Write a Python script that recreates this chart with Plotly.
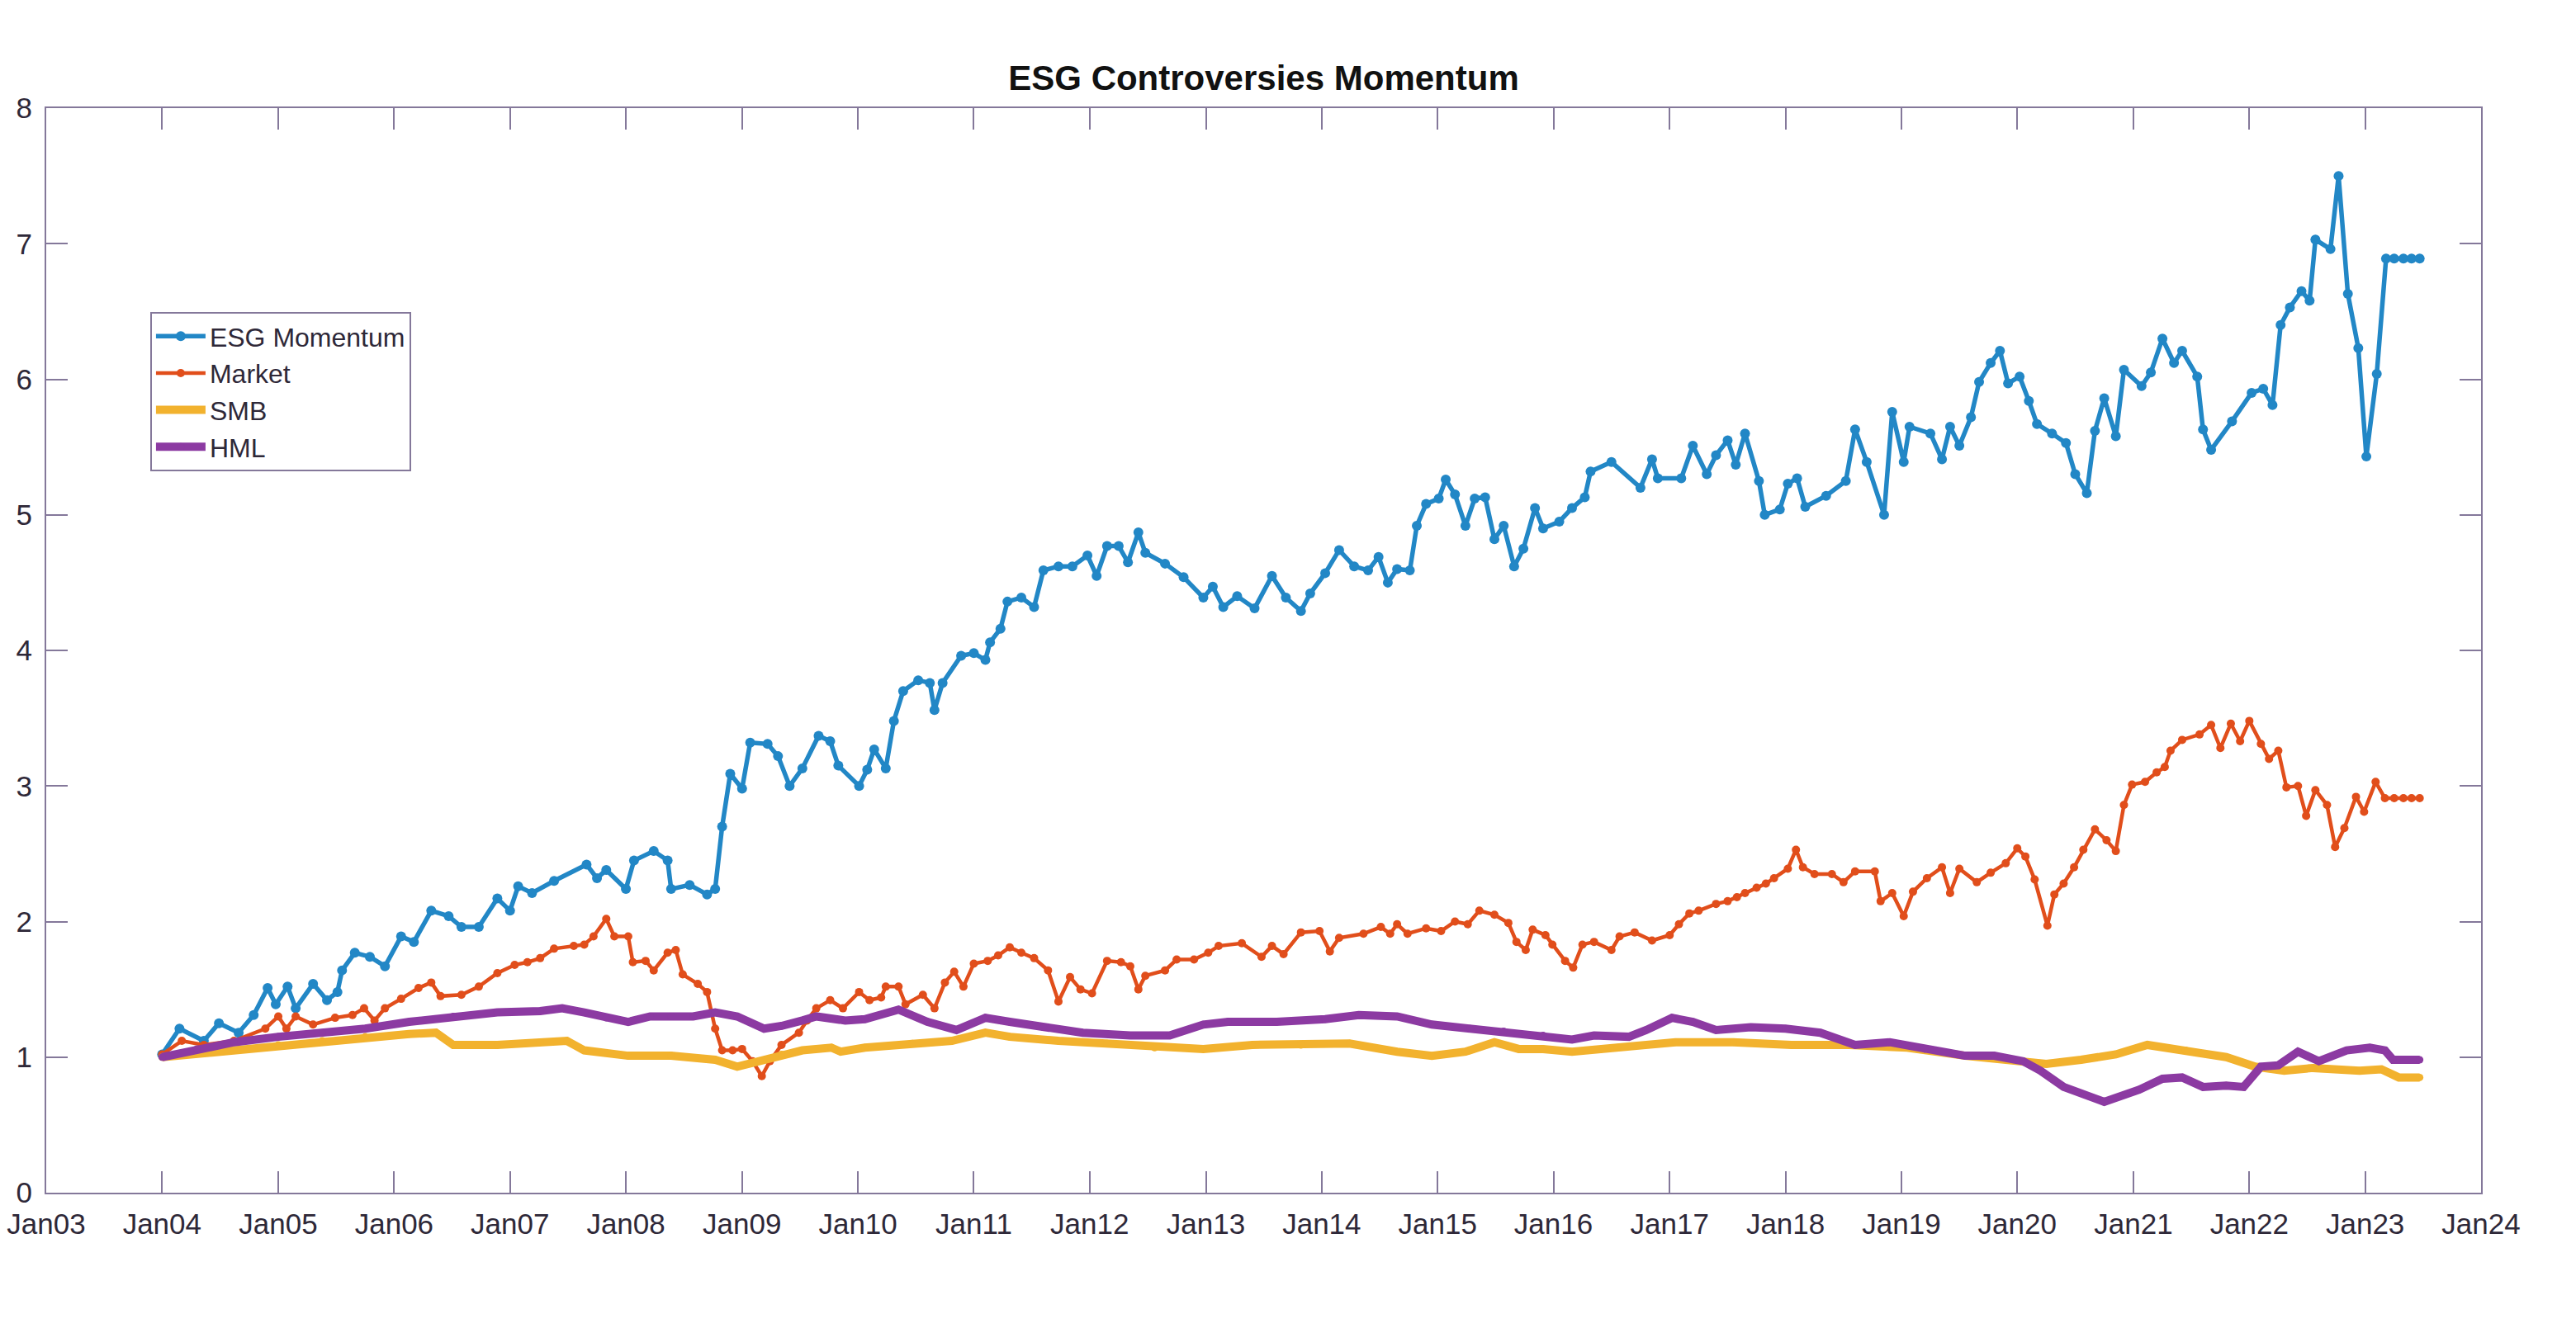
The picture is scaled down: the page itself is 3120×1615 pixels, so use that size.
import pandas as pd
import plotly.graph_objects as go

# ---------------- data (decimal year, value) ----------------
esg_t = [2004.00, 2004.15, 2004.36, 2004.49, 2004.66, 2004.79, 2004.91, 2004.98, 2005.08, 2005.15,
         2005.30, 2005.42, 2005.51, 2005.55, 2005.66, 2005.79, 2005.92, 2006.06, 2006.17, 2006.32,
         2006.47, 2006.58, 2006.73, 2006.89, 2007.00, 2007.07, 2007.19, 2007.38, 2007.66, 2007.75,
         2007.83, 2008.00, 2008.07, 2008.24, 2008.36, 2008.39, 2008.55, 2008.70, 2008.77, 2008.83,
         2008.90, 2009.00, 2009.07, 2009.22, 2009.31, 2009.41, 2009.52, 2009.66, 2009.76, 2009.83,
         2010.01, 2010.08, 2010.14, 2010.24, 2010.31, 2010.39, 2010.52, 2010.62, 2010.66, 2010.73,
         2010.89, 2011.00, 2011.10, 2011.14, 2011.23, 2011.29, 2011.41, 2011.52, 2011.60, 2011.73,
         2011.85, 2011.98, 2012.06, 2012.15, 2012.25, 2012.33, 2012.42, 2012.48, 2012.65, 2012.81,
         2012.98, 2013.06, 2013.15, 2013.27, 2013.42, 2013.57, 2013.69, 2013.82, 2013.90, 2014.03,
         2014.15, 2014.28, 2014.40, 2014.49, 2014.57, 2014.65, 2014.76, 2014.82, 2014.90, 2015.01,
         2015.07, 2015.15, 2015.24, 2015.32, 2015.41, 2015.49, 2015.57, 2015.66, 2015.74, 2015.84,
         2015.91, 2016.05, 2016.16, 2016.27, 2016.32, 2016.50, 2016.75, 2016.85, 2016.90, 2017.10,
         2017.20, 2017.32, 2017.40, 2017.50, 2017.57, 2017.65, 2017.77, 2017.82, 2017.95, 2018.02,
         2018.10, 2018.17, 2018.35, 2018.52, 2018.60, 2018.70, 2018.85, 2018.92, 2019.02, 2019.07,
         2019.25, 2019.35, 2019.42, 2019.50, 2019.60, 2019.67, 2019.77, 2019.85, 2019.92, 2020.02,
         2020.10, 2020.17, 2020.30, 2020.42, 2020.50, 2020.60, 2020.67, 2020.75, 2020.85, 2020.92,
         2021.07, 2021.15, 2021.25, 2021.35, 2021.42, 2021.55, 2021.60, 2021.67, 2021.85, 2022.02,
         2022.12, 2022.20, 2022.27, 2022.35, 2022.45, 2022.52, 2022.57, 2022.70, 2022.77, 2022.85,
         2022.94, 2023.01, 2023.10, 2023.18, 2023.25, 2023.33, 2023.40, 2023.47]
esg_v = [1.02, 1.21, 1.12, 1.25, 1.18, 1.31, 1.51, 1.39, 1.52, 1.36,
         1.54, 1.42, 1.48, 1.64, 1.77, 1.74, 1.67, 1.89, 1.85, 2.08,
         2.04, 1.96, 1.96, 2.17, 2.08, 2.26, 2.21, 2.30, 2.42, 2.32,
         2.38, 2.24, 2.45, 2.52, 2.45, 2.24, 2.27, 2.20, 2.24, 2.70,
         3.09, 2.98, 3.32, 3.31, 3.22, 3.00, 3.13, 3.37, 3.33, 3.15,
         3.00, 3.12, 3.27, 3.13, 3.48, 3.70, 3.78, 3.76, 3.56, 3.76,
         3.96, 3.98, 3.93, 4.06, 4.16, 4.36, 4.39, 4.32, 4.59, 4.62,
         4.62, 4.70, 4.55, 4.77, 4.77, 4.65, 4.87, 4.72, 4.64, 4.54,
         4.39, 4.47, 4.32, 4.40, 4.31, 4.55, 4.39, 4.29, 4.42, 4.57,
         4.74, 4.62, 4.59, 4.69, 4.50, 4.60, 4.59, 4.92, 5.08, 5.12,
         5.26, 5.15, 4.92, 5.12, 5.13, 4.82, 4.92, 4.62, 4.75, 5.05,
         4.90, 4.95, 5.05, 5.13, 5.32, 5.39, 5.20, 5.41, 5.27, 5.27,
         5.51, 5.30, 5.44, 5.55, 5.37, 5.60, 5.25, 5.00, 5.04, 5.23,
         5.27, 5.06, 5.14, 5.25, 5.63, 5.39, 5.00, 5.76, 5.39, 5.65,
         5.60, 5.41, 5.65, 5.51, 5.72, 5.98, 6.12, 6.21, 5.97, 6.02,
         5.84, 5.67, 5.60, 5.53, 5.30, 5.16, 5.62, 5.86, 5.58, 6.07,
         5.95, 6.05, 6.30, 6.12, 6.21, 6.02, 5.63, 5.48, 5.69, 5.90,
         5.93, 5.81, 6.40, 6.53, 6.65, 6.58, 7.03, 6.96, 7.50, 6.63,
         6.23, 5.43, 6.04, 6.89, 6.89, 6.89, 6.89, 6.89]

mkt_t = [2004.00, 2004.17, 2004.36, 2004.62, 2004.89, 2005.00, 2005.07, 2005.15, 2005.30, 2005.49,
         2005.64, 2005.74, 2005.83, 2005.92, 2006.06, 2006.21, 2006.32, 2006.40, 2006.58, 2006.73,
         2006.89, 2007.04, 2007.15, 2007.26, 2007.38, 2007.55, 2007.64, 2007.72, 2007.83, 2007.90,
         2008.02, 2008.06, 2008.17, 2008.24, 2008.36, 2008.43, 2008.49, 2008.62, 2008.70, 2008.77,
         2008.83, 2008.92, 2009.00, 2009.09, 2009.17, 2009.24, 2009.34, 2009.49, 2009.56, 2009.64,
         2009.76, 2009.87, 2010.01, 2010.10, 2010.20, 2010.24, 2010.35, 2010.41, 2010.56, 2010.66,
         2010.75, 2010.83, 2010.91, 2011.00, 2011.12, 2011.21, 2011.31, 2011.41, 2011.52, 2011.64,
         2011.73, 2011.83, 2011.92, 2012.02, 2012.15, 2012.27, 2012.35, 2012.42, 2012.48, 2012.65,
         2012.75, 2012.90, 2013.02, 2013.11, 2013.31, 2013.48, 2013.57, 2013.67, 2013.82, 2013.98,
         2014.07, 2014.15, 2014.36, 2014.51, 2014.59, 2014.65, 2014.74, 2014.90, 2015.03, 2015.15,
         2015.26, 2015.36, 2015.49, 2015.61, 2015.68, 2015.76, 2015.82, 2015.93, 2015.99, 2016.10,
         2016.17, 2016.25, 2016.35, 2016.50, 2016.57, 2016.70, 2016.85, 2017.00, 2017.08, 2017.17,
         2017.25, 2017.40, 2017.50, 2017.58, 2017.65, 2017.75, 2017.83, 2017.90, 2018.02, 2018.09,
         2018.15, 2018.25, 2018.40, 2018.50, 2018.60, 2018.77, 2018.82, 2018.92, 2019.02, 2019.10,
         2019.22, 2019.35, 2019.42, 2019.50, 2019.65, 2019.77, 2019.90, 2020.00, 2020.07, 2020.15,
         2020.26, 2020.32, 2020.40, 2020.49, 2020.57, 2020.67, 2020.77, 2020.85, 2020.92, 2020.99,
         2021.10, 2021.20, 2021.27, 2021.32, 2021.42, 2021.57, 2021.67, 2021.75, 2021.84, 2021.92,
         2022.00, 2022.10, 2022.17, 2022.25, 2022.32, 2022.42, 2022.49, 2022.57, 2022.67, 2022.74,
         2022.82, 2022.92, 2022.99, 2023.09, 2023.17, 2023.25, 2023.33, 2023.40, 2023.47]
mkt_v = [1.02, 1.12, 1.09, 1.12, 1.21, 1.30, 1.21, 1.30, 1.24, 1.29,
         1.31, 1.36, 1.27, 1.36, 1.43, 1.51, 1.55, 1.45, 1.46, 1.52,
         1.62, 1.68, 1.70, 1.73, 1.80, 1.82, 1.83, 1.89, 2.02, 1.89,
         1.89, 1.70, 1.71, 1.64, 1.77, 1.79, 1.61, 1.54, 1.48, 1.21,
         1.05, 1.05, 1.06, 0.97, 0.86, 0.97, 1.09, 1.18, 1.27, 1.36,
         1.42, 1.36, 1.48, 1.42, 1.44, 1.52, 1.52, 1.39, 1.46, 1.36,
         1.55, 1.63, 1.52, 1.69, 1.71, 1.75, 1.81, 1.77, 1.73, 1.64,
         1.41, 1.59, 1.50, 1.47, 1.71, 1.70, 1.67, 1.50, 1.60, 1.64,
         1.72, 1.72, 1.77, 1.82, 1.84, 1.74, 1.82, 1.76, 1.92, 1.93,
         1.78, 1.88, 1.91, 1.96, 1.91, 1.98, 1.91, 1.95, 1.93, 2.00,
         1.98, 2.08, 2.05, 1.99, 1.85, 1.79, 1.94, 1.90, 1.83, 1.71,
         1.66, 1.83, 1.85, 1.79, 1.89, 1.92, 1.86, 1.90, 1.98, 2.06,
         2.08, 2.13, 2.15, 2.18, 2.21, 2.25, 2.28, 2.32, 2.39, 2.53,
         2.40, 2.35, 2.35, 2.29, 2.37, 2.37, 2.15, 2.21, 2.04, 2.22,
         2.32, 2.40, 2.21, 2.39, 2.29, 2.36, 2.43, 2.54, 2.48, 2.31,
         1.97, 2.20, 2.28, 2.40, 2.53, 2.68, 2.60, 2.52, 2.86, 3.01,
         3.03, 3.10, 3.14, 3.26, 3.34, 3.38, 3.45, 3.28, 3.46, 3.33,
         3.48, 3.31, 3.20, 3.26, 2.99, 3.00, 2.78, 2.97, 2.86, 2.55,
         2.69, 2.92, 2.81, 3.03, 2.91, 2.91, 2.91, 2.91, 2.91]

smb_t = [2004.00, 2004.62, 2005.00, 2005.38, 2005.75, 2006.13, 2006.36, 2006.51, 2006.89, 2007.26,
         2007.49, 2007.64, 2008.02, 2008.39, 2008.77, 2008.96, 2009.15, 2009.34, 2009.52, 2009.77,
         2009.85, 2010.06, 2010.47, 2010.81, 2011.10, 2011.31, 2011.73, 2012.15, 2012.56, 2012.98,
         2013.40, 2013.82, 2014.24, 2014.65, 2014.95, 2015.24, 2015.49, 2015.70, 2015.91, 2016.16,
         2016.55, 2017.05, 2017.55, 2018.05, 2018.55, 2019.05, 2019.55, 2020.05, 2020.25, 2020.55,
         2020.85, 2021.12, 2021.45, 2021.80, 2022.05, 2022.30, 2022.55, 2022.95, 2023.14, 2023.29,
         2023.47]
smb_v = [1.00, 1.05, 1.09, 1.12, 1.15, 1.17, 1.18, 1.09, 1.09, 1.11,
         1.12, 1.05, 1.01, 1.01, 0.98, 0.93, 0.97, 1.02, 1.05, 1.07,
         1.04, 1.07, 1.10, 1.12, 1.18, 1.15, 1.12, 1.10, 1.07, 1.06,
         1.09, 1.09, 1.10, 1.04, 1.01, 1.04, 1.11, 1.06, 1.06, 1.04,
         1.07, 1.11, 1.11, 1.09, 1.09, 1.07, 1.01, 0.97, 0.95, 0.98,
         1.02, 1.09, 1.05, 1.00, 0.93, 0.90, 0.92, 0.90, 0.91, 0.85,
         0.85]

hml_t = [2004.00, 2004.30, 2004.62, 2005.00, 2005.38, 2005.75, 2006.13, 2006.51, 2006.89, 2007.26,
         2007.45, 2007.64, 2007.83, 2008.02, 2008.21, 2008.39, 2008.58, 2008.77, 2008.96, 2009.19,
         2009.34, 2009.52, 2009.64, 2009.89, 2010.06, 2010.35, 2010.60, 2010.85, 2011.10, 2011.31,
         2011.60, 2011.94, 2012.35, 2012.69, 2012.98, 2013.19, 2013.61, 2014.03, 2014.32, 2014.65,
         2014.95, 2015.28, 2015.57, 2015.91, 2016.16, 2016.35, 2016.65, 2016.80, 2017.02, 2017.20,
         2017.40, 2017.70, 2018.00, 2018.30, 2018.60, 2018.90, 2019.20, 2019.55, 2019.80, 2020.05,
         2020.20, 2020.40, 2020.75, 2021.05, 2021.25, 2021.42, 2021.60, 2021.80, 2021.95, 2022.10,
         2022.25, 2022.42, 2022.60, 2022.84, 2023.04, 2023.17, 2023.24, 2023.47]
hml_v = [1.00, 1.06, 1.11, 1.15, 1.18, 1.21, 1.26, 1.30, 1.33, 1.34,
         1.36, 1.33, 1.29, 1.26, 1.30, 1.30, 1.30, 1.33, 1.30, 1.21,
         1.23, 1.27, 1.30, 1.27, 1.28, 1.35, 1.26, 1.20, 1.29, 1.26,
         1.22, 1.18, 1.16, 1.16, 1.24, 1.26, 1.26, 1.28, 1.31, 1.30,
         1.24, 1.21, 1.19, 1.16, 1.13, 1.16, 1.15, 1.20, 1.29, 1.26,
         1.20, 1.22, 1.21, 1.18, 1.09, 1.11, 1.06, 1.01, 1.01, 0.97,
         0.90, 0.78, 0.67, 0.76, 0.84, 0.85, 0.78, 0.79, 0.78, 0.93,
         0.94, 1.04, 0.97, 1.05, 1.07, 1.05, 0.98, 0.98]

series_names = ["ESG Momentum", "Market", "SMB", "HML"]
series_colors = ["#2287c6", "#e14e1b", "#f2b22e", "#8c3aa2"]
y_ticks = [0, 1, 2, 3, 4, 5, 6, 7, 8]
title_text = "ESG Controversies Momentum"


def to_dates(ts):
    out = []
    for t in ts:
        yr = int(t)
        frac = t - yr
        out.append(pd.Timestamp(yr, 1, 1) + pd.Timedelta(days=frac * 365.25))
    return out


FONT = "Liberation Sans, Arial, Helvetica, sans-serif"
AX = "#84789a"
TXT = "#2e2838"

fig = go.Figure()
data = [(esg_t, esg_v), (mkt_t, mkt_v), (smb_t, smb_v), (hml_t, hml_v)]
widths = [5.5, 4.5, 10, 10]
msizes = [12, 10, 9, 9]
for (t, v), name, col, w, ms in zip(data, series_names, series_colors, widths, msizes):
    fig.add_trace(go.Scatter(
        x=to_dates(t), y=v, name=name, mode="lines+markers",
        line=dict(color=col, width=w),
        marker=dict(color=col, size=ms, symbol="circle"),
    ))

fig.update_layout(
    width=3120, height=1615,
    margin=dict(l=48, r=123, t=123, b=178, autoexpand=False),
    paper_bgcolor="white", plot_bgcolor="white",
    font=dict(family=FONT, size=35, color=TXT),
    title=dict(text="<b>" + title_text + "</b>", x=0.5, xref="paper",
               y=1 - 86 / 1615, yref="container", xanchor="center", yanchor="middle",
               font=dict(family=FONT, size=42, color="#111111")),
    showlegend=True,
    legend=dict(x=0.0427, y=0.812, xanchor="left", yanchor="top",
                bgcolor="white", bordercolor=AX, borderwidth=2,
                font=dict(family=FONT, size=32, color=TXT),
                itemwidth=60, tracegroupgap=0),
)

fig.update_xaxes(
    type="date", range=["2003-01-01", "2024-01-01"],
    tick0="2003-01-01", dtick="M12", tickformat="%b%y",
    showline=True, linecolor=AX, linewidth=2, mirror="ticks",
    ticks="inside", ticklen=26, tickwidth=2, tickcolor=AX,
    showgrid=False, zeroline=False, automargin=False,
    ticklabelstandoff=6,
    tickfont=dict(family=FONT, size=35, color=TXT),
)
fig.update_yaxes(
    range=[0, 8], tickmode="array", tickvals=y_ticks,
    showline=True, linecolor=AX, linewidth=2, mirror="ticks",
    ticks="inside", ticklen=26, tickwidth=2, tickcolor=AX,
    showgrid=False, zeroline=False, automargin=False,
    ticklabelstandoff=8,
    tickfont=dict(family=FONT, size=35, color=TXT),
)

fig.write_html("out.html")
